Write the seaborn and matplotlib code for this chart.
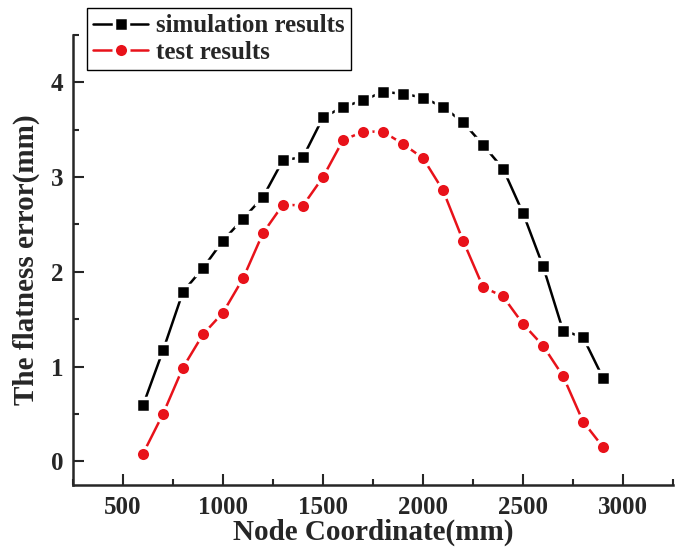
import seaborn as sns
import matplotlib.pyplot as plt
import numpy as np
import pandas as pd

# node coordinates (mm)
node = [600, 700, 800, 900, 1000, 1100, 1200, 1300, 1400, 1500, 1600, 1700,
        1800, 1900, 2000, 2100, 2200, 2300, 2400, 2500, 2600, 2700, 2800, 2900]
# flatness error (mm)
sim_vals = [0.59, 1.17, 1.79, 2.04, 2.33, 2.56, 2.79, 3.18, 3.21, 3.63, 3.74, 3.81,
            3.90, 3.88, 3.84, 3.74, 3.58, 3.34, 3.09, 2.62, 2.06, 1.38, 1.31, 0.88]
test_vals = [0.08, 0.50, 0.99, 1.34, 1.57, 1.93, 2.41, 2.71, 2.70, 3.00, 3.39, 3.48,
             3.48, 3.35, 3.20, 2.86, 2.33, 1.84, 1.74, 1.45, 1.22, 0.90, 0.42, 0.15]
x_ticks = [500, 1000, 1500, 2000, 2500, 3000]
y_ticks = [0, 1, 2, 3, 4]

sim = pd.DataFrame({'node': node, 'err': sim_vals})
test = pd.DataFrame({'node': node, 'err': test_vals})

sns.set_style('ticks')
plt.rcParams['font.family'] = ['Liberation Serif', 'DejaVu Serif']
plt.rcParams['font.weight'] = 'bold'

fig = plt.figure(figsize=(6.81, 5.49), dpi=100)
ax = fig.add_axes([0.1072, 0.1166, 0.8811, 0.8196])

# 模擬結果
sns.lineplot(data=sim, x='node', y='err', color='black', marker='s',
             markersize=10, markeredgecolor='white', markeredgewidth=2.5,
             linewidth=1.8, label='simulation results', ax=ax, legend=False)
# 試驗結果
sns.lineplot(data=test, x='node', y='err', color='#e8121a', marker='o',
             markersize=10.5, markeredgecolor='white', markeredgewidth=2.5,
             linewidth=1.8, label='test results', ax=ax, legend=False)

ax.set_xlim(250, 3250)
ax.set_ylim(-0.25, 4.5)
ax.set_xticks(x_ticks)
ax.set_yticks(y_ticks)
ax.set_xticks(np.arange(250, 3251, 500), minor=True)
ax.set_yticks(np.arange(-0.5, 4.51, 1.0)[1:], minor=True)
ax.tick_params(which='major', direction='in', length=8, width=1.5, labelsize=18)
ax.tick_params(axis='x', which='major', pad=8)
ax.tick_params(axis='y', which='major', pad=7)
ax.tick_params(which='minor', direction='in', length=4, width=1.5)
for lab in ax.get_xticklabels() + ax.get_yticklabels():
    lab.set_fontweight('bold')

sns.despine(ax=ax)
for s in ['left', 'bottom']:
    ax.spines[s].set_linewidth(1.8)

ax.set_xlabel('Node Coordinate(mm)', fontsize=21, fontweight='bold', labelpad=0)
ax.set_ylabel('The flatness error(mm)', fontsize=21, fontweight='bold', labelpad=8)

handles, labels = ax.get_legend_handles_labels()
leg = fig.legend(handles, labels, loc='upper left', bbox_to_anchor=(0.1278, 0.9854),
                 fontsize=18, frameon=True, fancybox=False, framealpha=1,
                 edgecolor='black', handlelength=2.2, handletextpad=0.3,
                 borderpad=0.25, labelspacing=0.15, borderaxespad=0)
leg.get_frame().set_linewidth(1.0)
for t in leg.get_texts():
    t.set_fontweight('bold')

plt.savefig('out.png', dpi=100)
